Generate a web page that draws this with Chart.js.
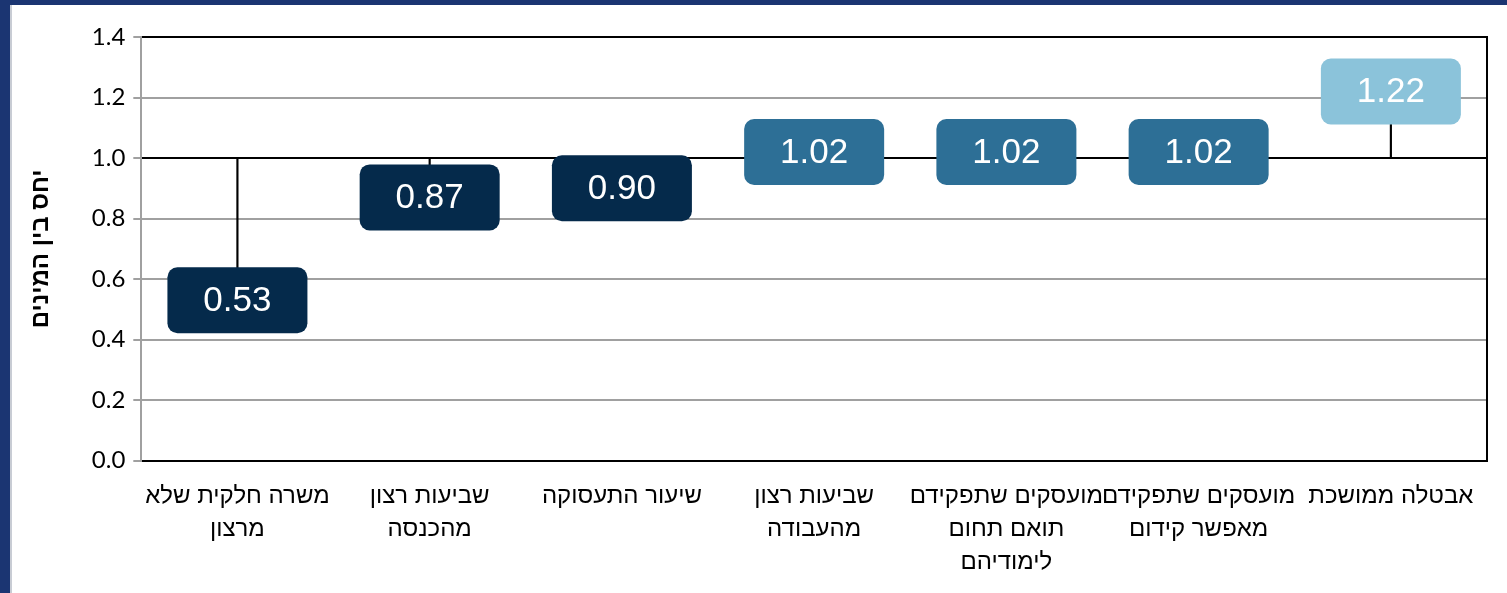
<!DOCTYPE html>
<html lang="he">
<head>
<meta charset="utf-8">
<script src="https://cdn.jsdelivr.net/npm/chart.js@4.4.1/dist/chart.umd.min.js"></script>
<style>
    html, body { margin: 0; padding: 0; }
    body {
        width: 1507px; height: 593px; overflow: hidden;
        background: #1b3572;
        position: relative;
    }
    #panel {
        position: absolute; left: 10px; top: 5px; width: 1497px; height: 588px;
        background: #ffffff;
        overflow: hidden;
        box-shadow: inset 2px 0 0 #c8ccd4;
    }
    #panel canvas { display: block; }
</style>
</head>
<body>
<div id="panel"><canvas id="ratioChart" width="1497" height="593"></canvas></div>
<script>
// נתונים - יחס בין המינים
const categories = [
    ['משרה חלקית שלא', 'מרצון'],
    ['שביעות רצון', 'מהכנסה'],
    'שיעור התעסוקה',
    ['שביעות רצון', 'מהעבודה'],
    ['מועסקים שתפקידם', 'תואם תחום', 'לימודיהם'],
    ['מועסקים שתפקידם', 'מאפשר קידום'],
    'אבטלה ממושכת'
];
const ratios = [0.53, 0.87, 0.90, 1.02, 1.02, 1.02, 1.22];
const baseline = 1.0;
const yTicks = [0, 0.2, 0.4, 0.6, 0.8, 1.0, 1.2, 1.4];
const labelColors = ['#052a4b', '#052a4b', '#052a4b', '#2d6f96', '#2d6f96', '#2d6f96', '#8bc3da'];

// קו מסגרת ימני
const frameLinePlugin = {
    id: 'frameLine',
    afterDatasetsDraw(chart) {
        const { ctx, chartArea: { top, bottom, right } } = chart;
        ctx.save();
        ctx.strokeStyle = '#000000';
        ctx.lineWidth = 2;
        ctx.beginPath();
        ctx.moveTo(right, top - 1);
        ctx.lineTo(right, bottom + 1);
        ctx.stroke();
        ctx.restore();
    }
};

// תוויות ערך בתיבות מעוגלות
const valueBoxPlugin = {
    id: 'valueBoxes',
    afterDatasetsDraw(chart) {
        const { ctx } = chart;
        const xScale = chart.scales.x;
        const yScale = chart.scales.y;
        ctx.save();
        ratios.forEach((v, i) => {
            const cx = xScale.getPixelForValue(i);
            const cy = yScale.getPixelForValue(v);
            const w = 140, h = 66;
            ctx.fillStyle = labelColors[i];
            ctx.beginPath();
            ctx.roundRect(cx - w / 2, cy - h / 2, w, h, 10);
            ctx.fill();
            ctx.fillStyle = '#ffffff';
            ctx.font = '35px "Liberation Sans", Arial, sans-serif';
            ctx.textAlign = 'center';
            ctx.textBaseline = 'middle';
            ctx.fillText(v.toFixed(2), cx, cy + 1);
        });
        ctx.restore();
    }
};

const ctx = document.getElementById('ratioChart').getContext('2d');
new Chart(ctx, {
    type: 'bar',
    data: {
        labels: categories,
        datasets: [{
            data: ratios.map(v => [baseline, v]),
            backgroundColor: '#000000',
            barThickness: 1.5,
            borderWidth: 0
        }]
    },
    options: {
        responsive: false,
        animation: false,
        layout: { padding: { top: 32, right: 20, left: 17, bottom: 0 } },
        plugins: { legend: { display: false }, tooltip: { enabled: false } },
        scales: {
            x: {
                grid: { display: false, drawTicks: false },
                border: { color: '#000000', width: 2 },
                ticks: {
                    color: '#000000',
                    padding: 19,
                    maxRotation: 0,
                    autoSkip: false,
                    font: { family: '"Liberation Sans", Arial, sans-serif', size: 24, lineHeight: 1.38 }
                }
            },
            y: {
                min: 0,
                max: 1.4,
                afterBuildTicks: axis => { axis.ticks = yTicks.map(v => ({ value: v })); },
                grid: {
                    color: c => (c.tick && (c.tick.value === 1 || c.tick.value === 1.4 || c.tick.value === 0)) ? '#000000' : '#a0a0a0',
                    lineWidth: 2,
                    tickColor: '#a0a0a0',
                    tickLength: 8
                },
                border: { color: '#a0a0a0', width: 2 },
                ticks: {
                    color: '#000000',
                    padding: 8,
                    callback: v => Number(v).toFixed(1),
                    font: { family: 'Lato, "Open Sans", sans-serif', size: 24 }
                },
                title: {
                    display: true,
                    text: 'יחס בין המינים',
                    color: '#000000',
                    padding: { top: 0, bottom: 28 },
                    font: { family: '"Liberation Sans", Arial, sans-serif', size: 24, weight: 'bold' }
                }
            }
        }
    },
    plugins: [frameLinePlugin, valueBoxPlugin]
});
</script>
</body>
</html>
